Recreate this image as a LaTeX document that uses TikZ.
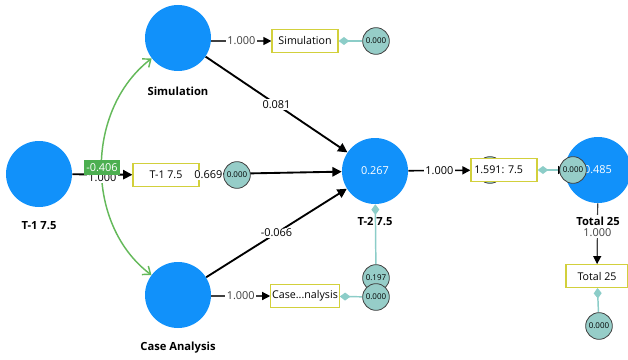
\documentclass[tikz,border=0pt]{standalone}
\usepackage{fontspec}
\setmainfont{Open Sans}
\usetikzlibrary{arrows.meta}
\definecolor{lvblue}{RGB}{17,145,250}
\definecolor{errfill}{RGB}{150,205,200}
\definecolor{boxyel}{RGB}{210,208,60}
\definecolor{tealln}{RGB}{140,205,200}
\definecolor{grn}{RGB}{76,175,80}
\definecolor{grnln}{RGB}{100,185,90}
\pgfdeclarelayer{background}
\pgfsetlayers{background,main}
\begin{document}
\begin{tikzpicture}[x=0.75pt,y=-0.75pt,
  lv/.style={circle,fill=lvblue,minimum size=49.5pt,inner sep=0pt,text=white,font=\fontsize{8.2}{9}\selectfont},
  lvlab/.style={font=\bfseries\fontsize{8.4}{10}\selectfont},
  ind/.style={draw=boxyel,line width=0.9pt,fill=white,minimum width=49.5pt,minimum height=17pt,inner sep=1pt,font=\fontsize{8}{9}\selectfont},
  err/.style={circle,draw=black!75,line width=0.6pt,fill=errfill,minimum size=20pt,inner sep=0pt,font=\fontsize{6}{7}\selectfont},
  pth/.style={black,line width=1.4pt,-{Triangle[length=7pt,width=7pt]}},
  ld/.style={black!75,line width=0.9pt,-{Triangle[length=6pt,width=6pt,color=black]}},
  wt/.style={fill=white,inner sep=1pt,font=\fontsize{8.2}{9}\selectfont},
  tl/.style={tealln,line width=1.1pt},
]
\clip (0,0) rectangle (628,360);
\useasboundingbox (0,0) rectangle (628,360);

% latent variables
\node[lv] (t1) at (39,174) {};
\node[lvlab] (t1lab) at (39,226) {T-1 7.5};
\node[lv] (sim) at (178,38) {};
\node[lvlab] (simlab) at (178,91) {Simulation};
\node[lv] (ca) at (178,295) {};
\node[lvlab] (calab) at (178,348) {Case Analysis};
\node[lv] (t2) at (375,171) {0.267};
\node[lvlab] (t2lab) at (375,222) {T-2 7.5};
\node[lv] (tot) at (598,170) {0.485};

% error terms and indicators
\node[err] (simerr) at (376,41) {0.000};
\node[ind] (simbox) at (305,41) {Simulation};
\node[err] (t1err) at (237,175) {0.000};
\node[ind] (t1box) at (166,175) {T-1 7.5};
\node[err] (t2err) at (376,278) {0.197};
\node[err] (caerr) at (376,297) {0.000};
\node[ind] (cabox) at (305,296) {Case...nalysis};
\node[err] (hid) at (490,170) {};
\node[ind] (t2box) at (504,170) {};
\node[font=\fontsize{8}{9}\selectfont,anchor=west,inner sep=0pt] (t2boxtxt) at (474,170) {1.591: 7.5};
\node[err] (toterr1) at (573,170) {0.000};
\node[lvlab,fill=white,inner sep=1pt] (totlab) at (598,221) {Total 25};
\node[ind,minimum width=46.5pt] (totbox) at (597,276) {Total 25};
\node[err] (toterr2) at (599,326) {0.000};

% correlation label
\node[fill=grn,text=white,inner sep=1.5pt,minimum height=11pt,font=\fontsize{8.2}{9}\selectfont] (corr) at (102,167.5) {-0.406};

\begin{pgfonlayer}{background}
  \draw[grnln,line width=1.1pt,{Straight Barb[length=5pt,width=8pt]}-{Straight Barb[length=5pt,width=8pt]}]
    (ca) .. controls (85,225) and (85,110) .. (sim);
  \draw[pth] (t1) -- (t1box) node[pos=0.5,wt,yshift=-2pt] {1.000};
  \draw[pth] (sim) -- (t2) node[pos=0.5,wt] {0.081};
  \draw[pth] (ca) -- (t2) node[pos=0.5,wt] {-0.066};
  \draw[pth] (t1box) -- (t2);
  \draw[ld] (sim.east |- simbox) -- (simbox) node[pos=0.5,wt] {1.000};
  \draw[ld] (ca.east |- cabox) -- (cabox) node[pos=0.5,wt] {1.000};
  \draw[ld,black,line width=1.2pt] (t2) -- (t2box) node[pos=0.5,wt] {1.000};
  \draw[ld] (tot) -- (totbox) node[pos=0.5,wt,yshift=1pt] {1.000};
  \draw[tl,{Diamond[length=8pt,width=6pt]}-] (simbox) -- (simerr);
  \draw[tl,{Diamond[length=8pt,width=6pt]}-] (cabox) -- (caerr);
  \draw[tl,{Diamond[length=8pt,width=6pt]}-] (t2) -- (t2err);
  \draw[tl,{Diamond[length=8pt,width=6pt]}-] (totbox) -- (toterr2);
  \draw[tl,line width=1.6pt,{Diamond[length=8pt,width=6pt]}-{Triangle[length=5pt,width=6pt,color=black]}] (t2box) -- (tot);
\end{pgfonlayer}
\node[wt,anchor=east,inner sep=0.5pt] (lab669) at (t1err.west) {0.669};
\end{tikzpicture}
\end{document}
